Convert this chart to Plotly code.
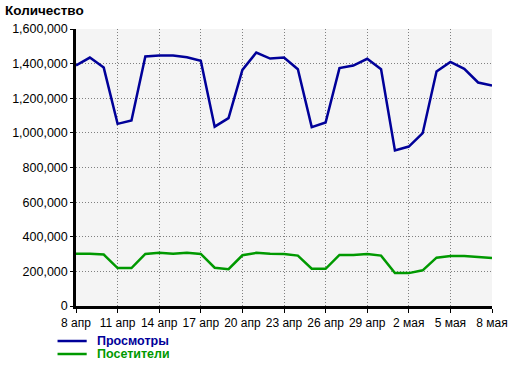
import plotly.graph_objects as go
import pandas as pd

dates = pd.date_range("2024-04-08", "2024-05-08", freq="D")

views = [1389000, 1435000, 1377000, 1052000, 1071000, 1441000, 1447000, 1447000,
         1437000, 1416000, 1036000, 1085000, 1364000, 1464000, 1429000, 1435000,
         1368000, 1033000, 1060000, 1374000, 1389000, 1428000, 1368000, 898000,
         921000, 998000, 1354000, 1410000, 1370000, 1291000, 1273000]

visitors = [302000, 302000, 297000, 219000, 219000, 301000, 308000, 302000,
            308000, 301000, 221000, 213000, 293000, 307000, 302000, 301000,
            291000, 215000, 215000, 295000, 295000, 301000, 291000, 190000,
            190000, 206000, 279000, 289000, 289000, 283000, 277000]

series_names = ["Просмотры", "Посетители"]

tick_dates = pd.date_range("2024-04-08", "2024-05-08", freq="3D")
tick_labels = ["8 апр", "11 апр", "14 апр", "17 апр", "20 апр", "23 апр",
               "26 апр", "29 апр", "2 мая", "5 мая", "8 мая"]

y_ticks = [0, 200000, 400000, 600000, 800000, 1000000, 1200000, 1400000, 1600000]

BLUE = "#000099"
GREEN = "#009900"
colors = [BLUE, GREEN]

fig = go.Figure()
for vals, name, col in zip([views, visitors], series_names, colors):
    fig.add_trace(go.Scatter(x=dates, y=vals, mode="lines",
                             line=dict(color=col, width=2.5), name=name))

# legend drawn manually (compact spacing like the reference)
leg_y = [-0.1264, -0.1733]
for name, col, ly in zip(series_names, colors, leg_y):
    fig.add_shape(type="line", xref="paper", yref="paper",
                  x0=-0.0444, x1=0.0257, y0=ly, y1=ly,
                  line=dict(color=col, width=2.5))
    fig.add_annotation(xref="paper", yref="paper", x=0.049, y=ly,
                       xanchor="left", yanchor="middle", showarrow=False,
                       text=f"<b>{name}</b>", height=12, borderpad=0,
                       font=dict(size=12.5, color=col))

fig.update_layout(
    width=520, height=366,
    margin=dict(l=67, r=25, t=29, b=60),
    paper_bgcolor="white",
    plot_bgcolor="#f4f4f4",
    font=dict(family="Liberation Sans, Arial, sans-serif", size=12, color="black"),
    title=dict(text="<b>Количество</b>", x=5/520, xanchor="left", xref="container",
               y=1 - 6/366, yanchor="top", yref="container",
               font=dict(size=13.5, color="black")),
    showlegend=False,
)
fig.update_xaxes(
    range=[dates[0], dates[-1]],
    tickvals=tick_dates, ticktext=tick_labels,
    showline=True, linecolor="black", linewidth=2.5,
    ticks="outside", ticklen=4, tickcolor="black", tickwidth=1,
    showgrid=True, gridcolor="#808080", griddash="1px,2px", gridwidth=1,
    zeroline=False, tickfont=dict(size=12),
)
fig.update_yaxes(
    range=[0, 1600000],
    tickvals=y_ticks, tickformat=",d",
    showline=True, linecolor="black", linewidth=2.5,
    ticks="outside", ticklen=3, tickcolor="black", tickwidth=1,
    showgrid=True, gridcolor="#808080", griddash="1px,2px", gridwidth=1,
    zeroline=False, tickfont=dict(size=12.5),
)

fig.write_html("out.html",
               config={"displayModeBar": False},
               post_script="document.body.style.margin='0';document.body.style.overflow='hidden';")
